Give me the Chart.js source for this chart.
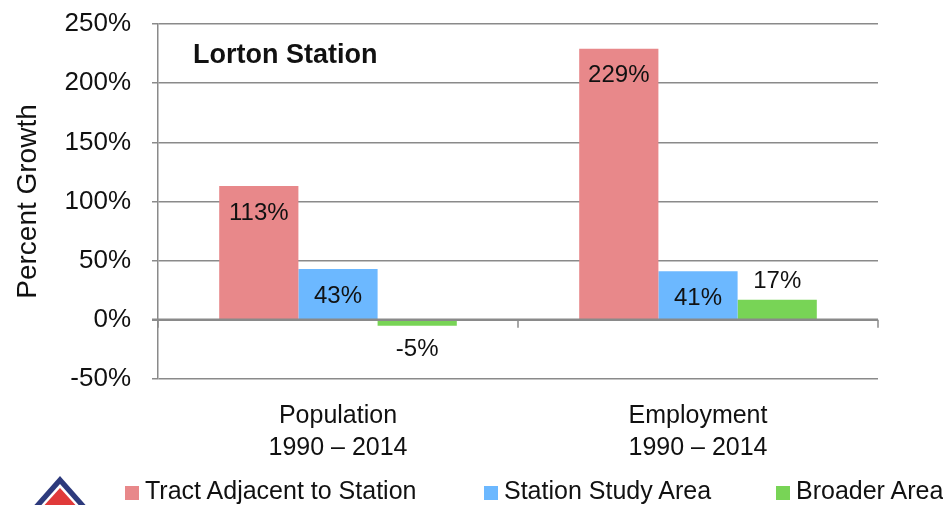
<!DOCTYPE html>
<html>
<head>
<meta charset="utf-8">
<script src="https://cdn.jsdelivr.net/npm/chart.js@4.4.1/dist/chart.umd.min.js"></script>
<style>
  html, body { margin: 0; padding: 0; background: #fff; }
  #wrap { position: relative; width: 943px; height: 505px; overflow: hidden; }
  #chart { position: absolute; left: 0; top: 0; }
  .lg { position: absolute; top: 475px; font: 25px 'Liberation Sans', Arial, sans-serif; color: #111; white-space: nowrap; line-height: 30px; }
  .lg i { display: inline-block; width: 14px; height: 14px; margin-right: 6px; vertical-align: -1px; }
  #logo { position: absolute; left: 18px; top: 466px; }
</style>
</head>
<body>
<div id="wrap">
  <canvas id="chart" width="943" height="505"></canvas>
  <svg id="logo" width="90" height="40" viewBox="0 0 90 40">
    <polygon points="42,10 12,44 72,44" fill="#2d3a7c"/>
    <polygon points="42,18 19,44 65,44" fill="#fff"/>
    <polygon points="42,22 22,44 62,44" fill="#e03a3a"/>
  </svg>
  <div class="lg" style="left:125px"><i style="background:#e8888a"></i>Tract Adjacent to Station</div>
  <div class="lg" style="left:484px"><i style="background:#6cb8ff"></i>Station Study Area</div>
  <div class="lg" style="left:776px"><i style="background:#78d456"></i>Broader Area</div>
</div>
<script>
const cats = [['Population', '1990 \u2013 2014'], ['Employment', '1990 \u2013 2014']];
const tract = [113, 229];
const study = [43, 41];
const broader = [-5, 17];
const yTicks = [-50, 0, 50, 100, 150, 200, 250];

const gridCol = '#8a8a8a';
const fontFam = "'Liberation Sans', Arial, sans-serif";

// value labels: tract & study inside the top, broader outside
const valueLabels = {
  id: 'valueLabels',
  afterDatasetsDraw(chart) {
    const ctx = chart.ctx;
    ctx.save();
    ctx.font = '24px ' + fontFam;
    ctx.fillStyle = '#111';
    ctx.textAlign = 'center';
    ctx.textBaseline = 'middle';
    chart.data.datasets.forEach((ds, i) => {
      chart.getDatasetMeta(i).data.forEach((bar, j) => {
        const v = ds.data[j];
        let y;
        if (i < 2) y = bar.y + 27;
        else if (v >= 0) y = bar.y - 18;
        else y = bar.y + 24;
        ctx.fillText(v + '%', bar.x, y);
      });
    });
    ctx.restore();
  }
};

// zero line with category boundary ticks
const zeroAxis = {
  id: 'zeroAxis',
  afterDatasetsDraw(chart) {
    const { ctx, scales: { x, y }, chartArea } = chart;
    const y0 = y.getPixelForValue(0);
    ctx.save();
    ctx.strokeStyle = gridCol;
    ctx.lineWidth = 2.5;
    ctx.beginPath();
    ctx.moveTo(chartArea.left - 6, y0);
    ctx.lineTo(chartArea.right, y0);
    ctx.stroke();
    ctx.lineWidth = 1.5;
    const step = (chartArea.right - chartArea.left) / cats.length;
    for (let k = 0; k <= cats.length; k++) {
      const xx = chartArea.left + step * k;
      ctx.beginPath();
      ctx.moveTo(xx, y0);
      ctx.lineTo(xx, y0 + 8);
      ctx.stroke();
    }
    ctx.restore();
  }
};

const chartTitle = {
  id: 'chartTitle',
  afterDraw(chart) {
    const ctx = chart.ctx;
    ctx.save();
    ctx.font = 'bold 27px ' + fontFam;
    ctx.fillStyle = '#111';
    ctx.textBaseline = 'middle';
    ctx.fillText('Lorton Station', 193, 56);
    ctx.restore();
  }
};

new Chart(document.getElementById('chart'), {
  type: 'bar',
  data: {
    labels: cats,
    datasets: [
      { label: 'Tract Adjacent to Station', data: tract, backgroundColor: '#e8888a' },
      { label: 'Station Study Area', data: study, backgroundColor: '#6cb8ff' },
      { label: 'Broader Area', data: broader, backgroundColor: '#78d456' }
    ]
  },
  options: {
    responsive: false,
    animation: false,
    devicePixelRatio: 1,
    layout: { padding: { top: 24, right: 65, left: 0, bottom: 0 } },
    datasets: { bar: { categoryPercentage: 0.66, barPercentage: 1.0 } },
    plugins: { legend: { display: false }, tooltip: { enabled: false } },
    scales: {
      x: {
        grid: { display: false, drawTicks: false },
        border: { display: false },
        ticks: { color: '#111', font: { family: fontFam, size: 25, lineHeight: 1.28 }, padding: 21, maxRotation: 0 },
        afterFit(s) { s.height = 126; }
      },
      y: {
        min: -50, max: 250,
        afterBuildTicks(s) { s.ticks = yTicks.map(v => ({ value: v })); },
        grid: { color: ctx => ctx.tick && ctx.tick.value === 0 ? 'rgba(0,0,0,0)' : gridCol, lineWidth: 1.5, tickLength: 6, tickColor: gridCol },
        border: { color: gridCol, width: 1.5 },
        ticks: { color: '#111', font: { family: fontFam, size: 26 }, padding: 21, callback: v => v + '%' },
        title: { display: true, text: 'Percent Growth', color: '#111', font: { family: fontFam, size: 28 }, padding: { top: 11, bottom: 0 } },
        afterFit(s) { s.width = 158; s.paddingTop = 0; s.paddingBottom = 0; }
      }
    }
  },
  plugins: [valueLabels, zeroAxis, chartTitle]
});
</script>
</body>
</html>
